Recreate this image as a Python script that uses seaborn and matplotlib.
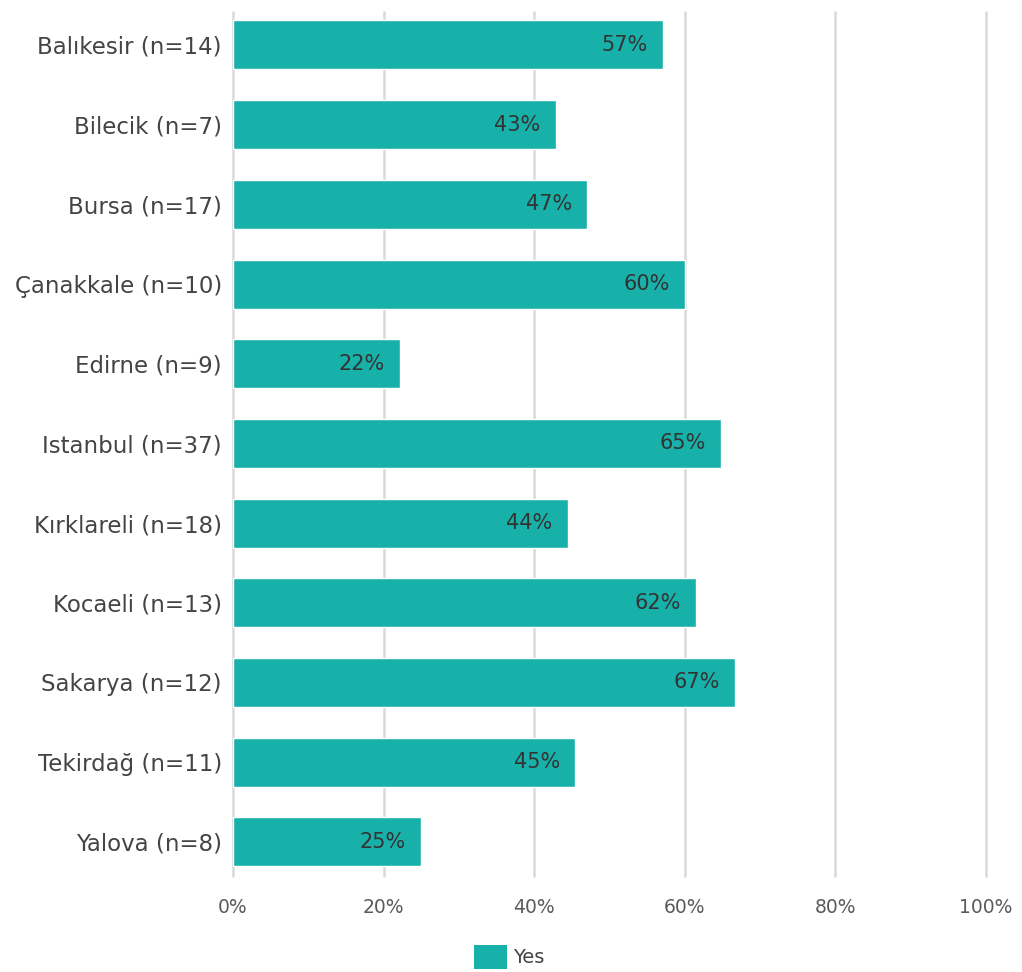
import matplotlib
matplotlib.use("Agg")
import matplotlib.pyplot as plt
import seaborn as sns
import pandas as pd
from matplotlib.patches import Patch

# Share of respondents answering "Yes" by province
provinces = [
    "Balıkesir (n=14)", "Bilecik (n=7)", "Bursa (n=17)", "Çanakkale (n=10)",
    "Edirne (n=9)", "Istanbul (n=37)", "Kırklareli (n=18)", "Kocaeli (n=13)",
    "Sakarya (n=12)", "Tekirdağ (n=11)", "Yalova (n=8)",
]
yes_pct = [57.14, 42.86, 47.06, 60.00, 22.22, 64.86, 44.44, 61.54, 66.67, 45.45, 25.00]
x_ticks = [0, 20, 40, 60, 80, 100]
x_tick_labels = ["0%", "20%", "40%", "60%", "80%", "100%"]
series_name = "Yes"

BAR = "#18B1AA"
FONT = ["DejaVu Sans"]

sns.set_theme(style="white")
plt.rcParams["font.family"] = FONT

df = pd.DataFrame({"province": provinces, "pct": yes_pct})

W, H = 1022, 972
fig = plt.figure(figsize=(W / 100, H / 100), dpi=100)
ax = fig.add_axes([233 / W, (H - 876) / H, (986 - 233) / W, (876 - 12) / H])

sns.barplot(data=df, x="pct", y="province", orient="h", color=BAR,
            saturation=1, width=0.615, ax=ax, zorder=3)

for patch, v in zip(ax.patches, yes_pct):
    y = patch.get_y() + patch.get_height() / 2
    ax.annotate(f"{v:.0f}%", xy=(patch.get_width(), y), xytext=(-11, 0),
                textcoords="offset points", ha="right", va="center",
                fontsize=15, color="#333333", zorder=4)

ax.set_xlim(0, 100)
ax.set_ylim(10.43, -0.414)
ax.set_xticks(x_ticks)
ax.set_xticklabels(x_tick_labels)
ax.set_xlabel("")
ax.set_ylabel("")
ax.grid(axis="x", color="#d9d9d9", linewidth=1.8, zorder=0)
ax.grid(axis="y", visible=False)
ax.set_axisbelow(True)
for gl in ax.get_xgridlines():
    gl.set_clip_on(False)
for s in ax.spines.values():
    s.set_visible(False)
ax.tick_params(axis="x", length=0, pad=16, labelsize=13.5, labelcolor="#5a5a5a")
ax.tick_params(axis="y", length=0, pad=8, labelsize=16.5, labelcolor="#444444")

handle = Patch(facecolor=BAR, edgecolor="none", label=series_name)
fig.legend(handles=[handle], loc="center", bbox_to_anchor=(509 / W, 1 - 957 / H),
           frameon=False, fontsize=14, handlelength=1.7, handleheight=1.5,
           handletextpad=0.3, borderpad=0, labelcolor="#444444")

fig.savefig("out.png", dpi=100)
